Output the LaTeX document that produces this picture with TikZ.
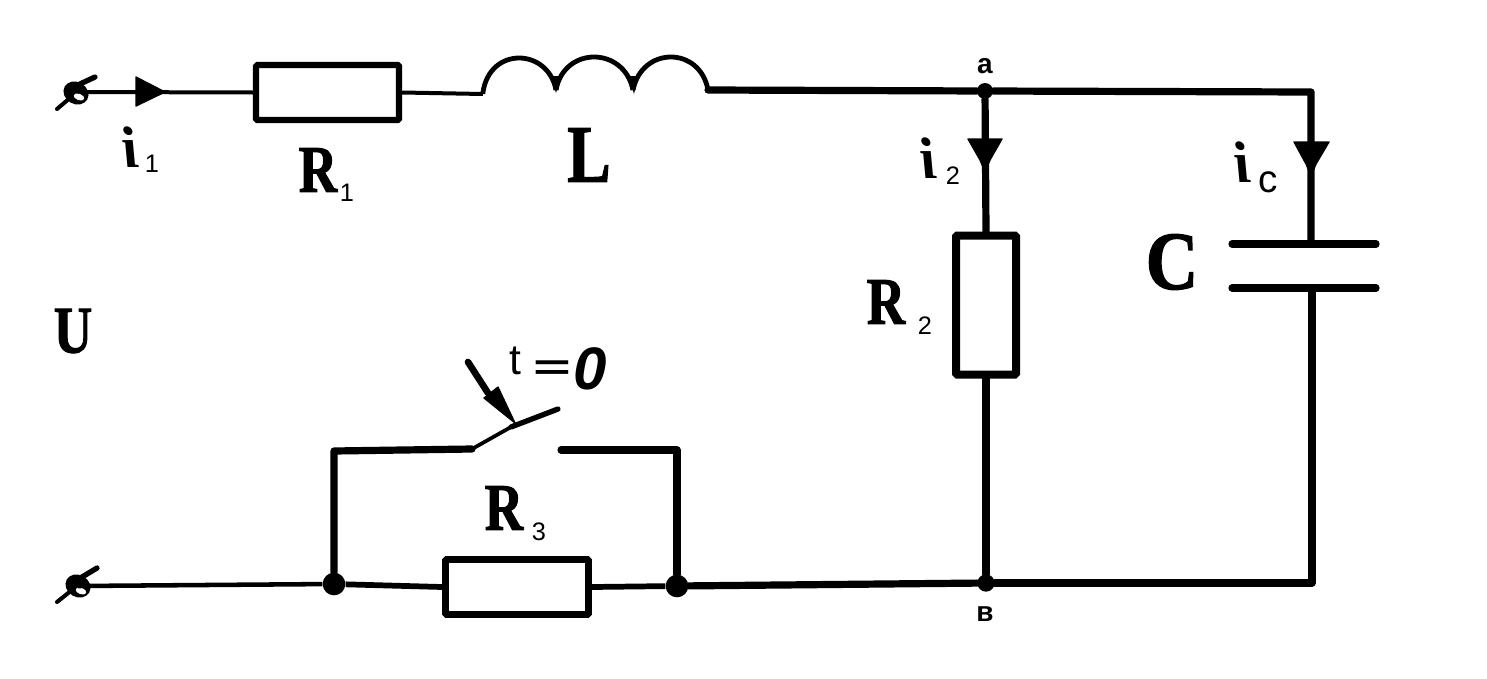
\documentclass[tikz,border=0pt]{standalone}
\usepackage{fontspec}
\setmainfont[BoldFeatures={FakeBold=1.6}]{Liberation Serif}
\newfontfamily\subf{Liberation Sans}
\tikzset{
  wire/.style={line width=5.4pt,line cap=round,line join=round},
  lead/.style={line width=3pt},
  res/.style={draw,line width=4.6pt,rounded corners=1pt,inner sep=0pt,fill=white},
  dotn/.style={circle,fill=black,inner sep=0pt,minimum size=17pt},
  arrowtip/.style={fill=black,draw=black,line join=round,line width=1pt},
  big/.style={font=\fontsize{50}{50}\bfseries\selectfont,inner sep=0pt,xscale=.8,transform shape},
  sub/.style={font=\subf\fontsize{19}{19}\selectfont,inner sep=0pt},
  cur/.style={font=\bfseries\itshape\fontsize{44}{44}\selectfont,inner sep=0pt,xslant=-.27,transform shape},
  pt/.style={font=\subf\bfseries\fontsize{21}{21}\selectfont,inner sep=0pt},
}
\begin{document}
\begin{tikzpicture}[x=0.75pt,y=-0.75pt]
\useasboundingbox (0,0) rectangle (1487,678);
\coordinate (t1) at (76,92);
\coordinate (t2) at (78,586);
\coordinate (Ls) at (483,94);
\coordinate (Le) at (708,90);
\coordinate (tr) at (1311,92);
\coordinate (br) at (1312,583);
\coordinate (capT) at (1311,244);
\coordinate (capB) at (1312,288);
\coordinate (sl) at (334,451);
\coordinate (sr) at (677,450);
\coordinate (sa) at (472,449);
\coordinate (sm) at (511,427);
\coordinate (sb) at (558,409);
\coordinate (sc) at (561,450);
\node[res,minimum width=143pt*0.75,minimum height=55pt*0.75] (R1) at (327.5,92.5) {};
\node[res,line width=6pt,minimum width=60pt*0.75,minimum height=139pt*0.75] (R2) at (986,305) {};
\node[res,line width=5.2pt,minimum width=143pt*0.75,minimum height=55pt*0.75] (R3) at (517,587) {};
\node[dotn,minimum size=12pt] (a) at (985,91) {};
\node[dotn,minimum size=13pt] (b) at (986,583) {};
\node[dotn] (n3) at (334,584) {};
\node[dotn] (n4) at (677,586) {};
% terminals
\draw[line width=3pt,line cap=round] (57,109) -- (70,98);
\draw[line width=4pt,line cap=round] (80,84) -- (95,77);
\fill[black,rotate around={-30:(76,93)}] (76,93) ellipse (13 and 11);
\fill[white,rotate around={-20:(79,97)}] (79,97) ellipse (5.5 and 3.2);
\draw[line width=3pt,line cap=round] (57,602) -- (72,590);
\draw[line width=4pt,line cap=round] (82,577) -- (97,568);
\fill[black,rotate around={-30:(78,586)}] (78,586) ellipse (13 and 11);
\fill[white,rotate around={-20:(81,591)}] (81,591) ellipse (5.5 and 3.2);
% top wires
\draw[lead] (t1) ++(10,0) -- (R1.west);
\draw[arrowtip] (136,77) -- (165,92) -- (136,106) -- cycle;
\draw[lead] (R1.east) -- (Ls);
\draw[line width=3.6pt,line cap=butt,line join=round] (Ls) -- (483,92) .. controls (490,46) and (548,48) .. (556,90);
\draw[line width=3.6pt] (556,90) .. controls (564,46) and (624,46) .. (633,90);
\draw[line width=3.6pt] (633,90) .. controls (642,46) and (700,46) .. (708,90);
\fill (551,76) -- (561,76) -- (556,93) -- cycle;
\fill (628,76) -- (638,76) -- (634,94) -- cycle;
\draw[wire] (Le) -- (a);
\draw[wire] (a) -- (tr) -- (capT);
\draw[wire] (capB) -- (br) -- (b);
\draw[wire] (a) -- (R2.north);
\draw[wire] (R2.south) -- (b);
\draw[wire] (b) -- (n4);
\draw[line width=4.3pt] (n4) -- (R3.east);
\draw[line width=4.3pt] (R3.west) -- (n3);
\draw[line width=3.4pt] (n3) -- (t2);
% arrows
\draw[arrowtip] (968,139) -- (1002,139) -- (990,160) -- (985,172) -- (980,160) -- cycle;
\draw[arrowtip] (1294,142) -- (1329,142) -- (1316,164) -- (1311,176) -- (1306,164) -- cycle;
% capacitor
\draw[wire] (1232,244) -- (1376,244);
\draw[wire] (1232,288) -- (1376,288);
% switch
\draw[wire] (n3) -- (sl) -- (sa);
\draw[line width=2.8pt,line cap=round] (sa) -- (sm);
\draw[line width=4pt,line cap=round] (sm) -- (sb);
\draw[wire] (sc) -- (sr) -- (n4);
\draw[line width=5pt,line cap=round] (468,362) -- (488,393);
\draw[arrowtip] (484,398) -- (498,387) -- (515,423) -- cycle;
% labels
\node[cur] at (129,147) {i};
\node[sub] at (152,164) {1};
\node[big] at (318,170) {R};
\node[sub] at (347,193) {1};
\node[big,font=\fontsize{61}{61}\bfseries\selectfont] at (589,155) {L};
\node[big] at (73,331) {U};
\node[pt] at (985,66) {a};
\node[pt] at (985,614) {в};
\node[cur] at (927,158) {i};
\node[sub] at (953,176) {2};
\node[big] at (886,302) {R};
\node[sub] at (925,326) {2};
\node[cur] at (1241,162) {i};
\node[sub,font=\subf\fontsize{29}{29}\selectfont] at (1268,182) {c};
\node[big,xscale=1.1,font=\fontsize{62}{62}\bfseries\selectfont] at (1172,262) {C};
\node[big] at (504,508) {R};
\node[sub] at (539,532) {3};
\node[sub,font=\subf\fontsize{32}{32}\selectfont] at (515,361) {t};
\node[inner sep=0pt,font=\subf\bfseries\fontsize{27}{27}\selectfont,xscale=1.8,transform shape] at (552,370) {=};
\node[inner sep=0pt,font=\subf\bfseries\itshape\fontsize{45}{45}\selectfont] at (590,369) {0};
\end{tikzpicture}
\end{document}
